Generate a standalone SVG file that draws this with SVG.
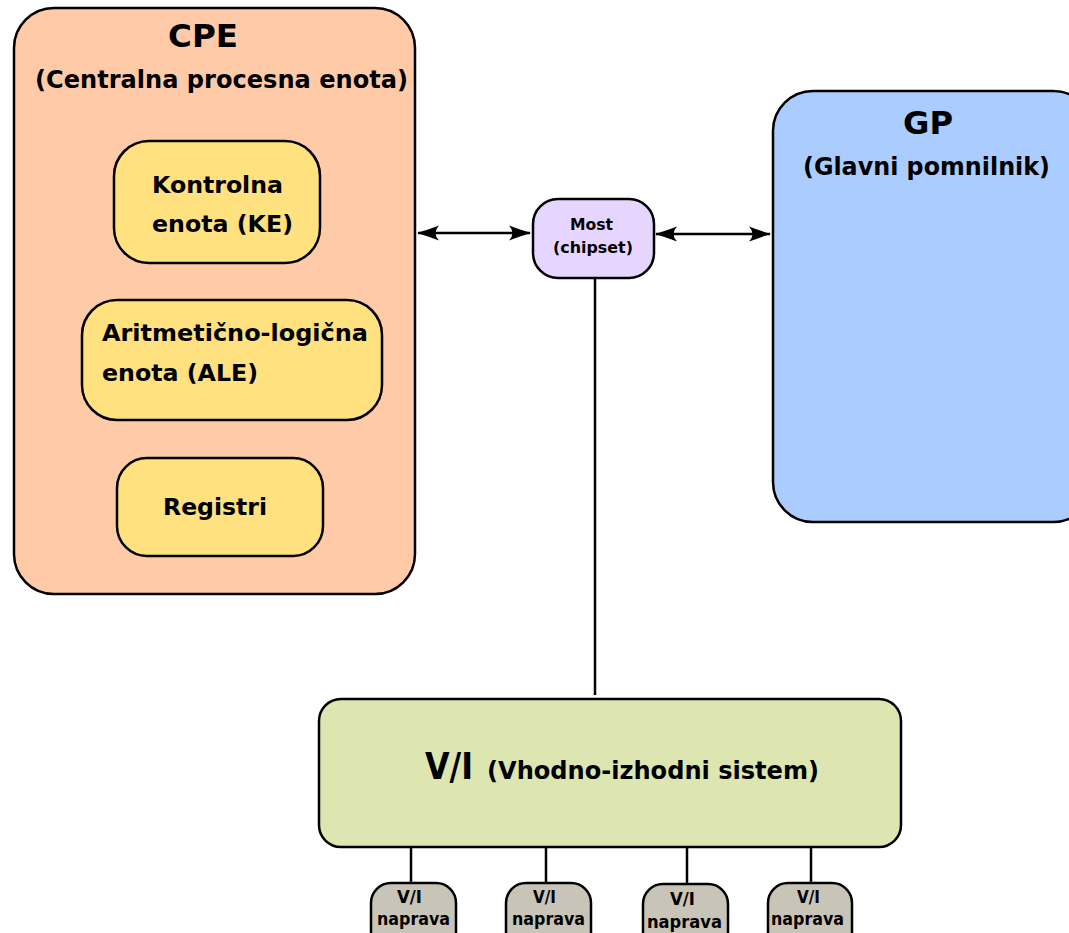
<svg xmlns="http://www.w3.org/2000/svg" width="1069" height="933" viewBox="0 0 1069 933">
  <defs>
    <style>
      text { font-family: "DejaVu Sans", "Liberation Sans", sans-serif; font-weight: bold; fill: #000; }
      .box { stroke: #000; stroke-width: 2.5; }
      .cpe { fill: #ffcaa8; }
      .gp { fill: #aaccff; }
      .unit { fill: #ffe180; }
      .most { fill: #e5d5ff; }
      .io { fill: #dde6b0; }
      .dev { fill: #c8c4b7; }
      .wire { stroke: #000; stroke-width: 2.5; fill: none; }
      .t30 { font-size: 31.5px; }
      .t24 { font-size: 24px; }
      .t23 { font-size: 23.5px; }
      .t15 { font-size: 16px; }
      .t17 { font-size: 17.5px; }
    </style>
    <!-- concave arrowhead, reused for both ends -->
    <marker id="arrow" viewBox="-22 -9 24 18" refX="0" refY="0" markerWidth="24" markerHeight="18" markerUnits="userSpaceOnUse" orient="auto-start-reverse" overflow="visible">
      <path d="M1,0 C-6,-2 -14,-5 -21,-7.5 Q-14,0 -21,7.5 C-14,5 -6,2 1,0 Z" fill="#000"/>
    </marker>
  </defs>

  <g id="cpe">
    <rect class="box cpe" x="14" y="8" width="401" height="586" rx="40"/>
    <text class="t30" x="168" y="47" textLength="70" lengthAdjust="spacingAndGlyphs">CPE</text>
    <text class="t24" x="35" y="88" textLength="373" lengthAdjust="spacingAndGlyphs">(Centralna procesna enota)</text>
  </g>

  <g id="ke">
    <rect class="box unit" x="114" y="141" width="206" height="122" rx="35"/>
    <text class="t23" x="152" y="193" textLength="131" lengthAdjust="spacingAndGlyphs">Kontrolna</text>
    <text class="t23" x="152" y="232" textLength="141" lengthAdjust="spacingAndGlyphs">enota (KE)</text>
  </g>

  <g id="ale">
    <rect class="box unit" x="82" y="300" width="300" height="120" rx="35"/>
    <text class="t23" x="102" y="341" textLength="266" lengthAdjust="spacingAndGlyphs">Aritmetično-logična</text>
    <text class="t23" x="102" y="381" textLength="156" lengthAdjust="spacingAndGlyphs">enota (ALE)</text>
  </g>

  <g id="registri">
    <rect class="box unit" x="117" y="458" width="206" height="98" rx="30"/>
    <text class="t23" x="163" y="515" textLength="104" lengthAdjust="spacingAndGlyphs">Registri</text>
  </g>

  <g id="gp">
    <rect class="box gp" x="773" y="91" width="320" height="431" rx="40"/>
    <text class="t30" x="903" y="134" textLength="50" lengthAdjust="spacingAndGlyphs">GP</text>
    <text class="t24" x="803" y="175" textLength="247" lengthAdjust="spacingAndGlyphs">(Glavni pomnilnik)</text>
  </g>

  <g id="most">
    <rect class="box most" x="533" y="199" width="121" height="79" rx="25"/>
    <text class="t15" x="570" y="230" textLength="43" lengthAdjust="spacingAndGlyphs">Most</text>
    <text class="t15" x="553" y="253" textLength="80" lengthAdjust="spacingAndGlyphs">(chipset)</text>
  </g>

  <g id="vi">
    <rect class="box io" x="319" y="699" width="582" height="148" rx="22"/>
    <text x="425" y="779" font-size="37" textLength="48" lengthAdjust="spacingAndGlyphs">V/I</text>
    <text class="t24" x="487" y="779" textLength="332" lengthAdjust="spacingAndGlyphs">(Vhodno-izhodni sistem)</text>
  </g>

  <g id="naprava1">
    <rect class="box dev" x="371" y="883" width="85" height="70" rx="20"/>
    <text class="t17" x="397" y="903" textLength="25" lengthAdjust="spacingAndGlyphs">V/I</text>
    <text class="t17" x="377" y="925" textLength="73" lengthAdjust="spacingAndGlyphs">naprava</text>
  </g>
  <g id="naprava2">
    <rect class="box dev" x="506" y="883" width="85" height="70" rx="20"/>
    <text class="t17" x="533" y="903" textLength="23" lengthAdjust="spacingAndGlyphs">V/I</text>
    <text class="t17" x="512" y="925" textLength="73" lengthAdjust="spacingAndGlyphs">naprava</text>
  </g>
  <g id="naprava3">
    <rect class="box dev" x="643" y="884" width="85" height="70" rx="20"/>
    <text class="t17" x="670" y="905" textLength="25" lengthAdjust="spacingAndGlyphs">V/I</text>
    <text class="t17" x="647" y="928" textLength="75" lengthAdjust="spacingAndGlyphs">naprava</text>
  </g>
  <g id="naprava4">
    <rect class="box dev" x="768" y="883" width="84" height="70" rx="20"/>
    <text class="t17" x="797" y="903" textLength="23" lengthAdjust="spacingAndGlyphs">V/I</text>
    <text class="t17" x="771" y="925" textLength="73" lengthAdjust="spacingAndGlyphs">naprava</text>
  </g>

  <g id="connectors">
    <line class="wire" x1="418" y1="233" x2="530" y2="233" marker-start="url(#arrow)" marker-end="url(#arrow)"/>
    <line class="wire" x1="656" y1="234" x2="770" y2="234" marker-start="url(#arrow)" marker-end="url(#arrow)"/>
    <line class="wire" x1="595" y1="278" x2="595" y2="695"/>
    <line class="wire" x1="411" y1="848" x2="411" y2="883"/>
    <line class="wire" x1="546" y1="848" x2="546" y2="883"/>
    <line class="wire" x1="687" y1="848" x2="687" y2="884"/>
    <line class="wire" x1="811" y1="848" x2="811" y2="883"/>
  </g>
</svg>
